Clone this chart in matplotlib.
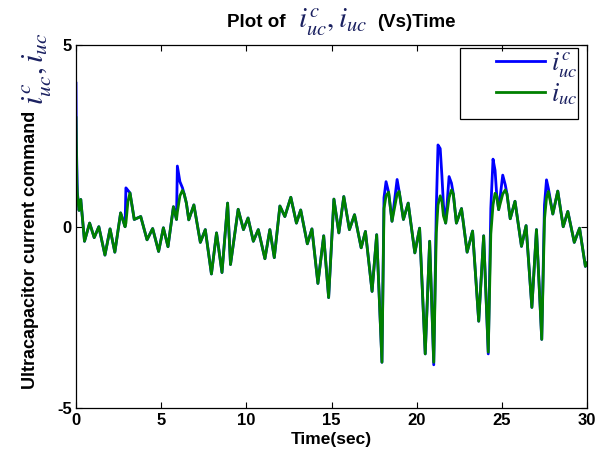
import matplotlib
matplotlib.use("Agg")
import matplotlib.pyplot as plt
from matplotlib.patches import Rectangle

plt.rcParams['font.family'] = ['Liberation Sans', 'DejaVu Sans']
plt.rcParams['mathtext.fontset'] = 'stix'
plt.rcParams['axes.unicode_minus'] = False

# Time (sec)
time = [0.00, 0.02, 0.05, 0.08, 0.18, 0.28, 0.50, 0.80, 1.07, 1.34, 1.70, 2.00, 2.28, 2.62, 2.88,
        2.93, 3.05, 3.17, 3.42, 3.80, 4.17, 4.50, 4.85, 5.13, 5.40, 5.72, 5.90, 5.95, 6.10, 6.25,
        6.35, 6.48, 6.62, 6.92, 7.30, 7.59, 7.95, 8.25, 8.57, 8.90, 9.07, 9.52, 9.83, 10.10, 10.41,
        10.70, 11.09, 11.38, 11.64, 11.97, 12.26, 12.61, 12.94, 13.19, 13.58, 13.85, 14.20, 14.54,
        14.83, 15.14, 15.43, 15.72, 16.05, 16.35, 16.74, 16.99, 17.38, 17.65, 17.96, 18.08, 18.20,
        18.35, 18.55, 18.85, 18.97, 19.22, 19.50, 19.89, 20.17, 20.50, 20.76, 21.00, 21.15, 21.25,
        21.38, 21.48, 21.57, 21.70, 21.90, 22.04, 22.15, 22.33, 22.63, 22.96, 23.28, 23.64, 23.93,
        24.20, 24.35, 24.48, 24.60, 24.70, 24.81, 25.05, 25.20, 25.30, 25.49, 25.77, 26.15, 26.42,
        26.76, 27.03, 27.34, 27.50, 27.62, 27.73, 27.99, 28.28, 28.60, 28.87, 29.25, 29.56, 29.90,
        30.00]

# Measured ultracapacitor current i_uc (green)
i_uc = [3.00, 2.30, 1.20, 0.90, 0.45, 0.75, -0.40, 0.10, -0.30, 0.00, -0.78, -0.06, -0.70, 0.38, 0.00,
        0.10, 0.70, 0.93, 0.20, 0.28, -0.36, -0.05, -0.68, -0.03, -0.55, 0.55, 0.20, 0.40, 0.85, 1.00,
        0.90, 0.65, 0.19, 0.60, -0.43, -0.08, -1.30, -0.17, -1.26, 0.65, -1.04, 0.48, -0.08, 0.24, -0.40,
        -0.08, -0.88, -0.08, -0.85, 0.57, 0.28, 0.81, 0.10, 0.46, -0.47, -0.06, -1.56, -0.25,
        -1.95, 0.76, -0.17, 0.83, -0.08, 0.33, -0.58, -0.13, -1.78, -0.22, -3.73, 0.50, 0.85,
        0.95, 0.15, 0.90, 0.97, 0.20, 0.65, -0.72, -0.04, -3.50, -0.40, -3.73, -0.17, 0.60,
        0.85, 0.70, 0.30, 0.10, 0.80, 1.01, 0.90, 0.10, 0.50, -0.70, -0.12, -2.60, -0.25,
        -3.45, -0.20, 0.60, 0.92, 0.85, 0.47, 0.90, 1.01, 0.90, 0.22, 0.70, -0.54, 0.03,
        -2.22, -0.08, -3.10, 0.20, 0.80, 0.97, 0.35, 0.98, 0.00, 0.42, -0.43, -0.04, -1.09,
        -1.00]

# Current command i_uc^c (blue)
i_uc_cmd = [3.95, 2.35, 1.67, 0.95, 0.45, 0.75, -0.40, 0.10, -0.30, 0.00, -0.78, -0.06, -0.70, 0.38, 0.00,
            1.07, 1.00, 0.93, 0.20, 0.28, -0.36, -0.05, -0.68, -0.03, -0.55, 0.55, 0.20, 1.67, 1.24, 1.07,
            0.90, 0.65, 0.19, 0.60, -0.43, -0.08, -1.30, -0.17, -1.26, 0.65, -1.04, 0.48, -0.08, 0.24, -0.40,
            -0.08, -0.88, -0.08, -0.85, 0.57, 0.28, 0.81, 0.10, 0.46, -0.47, -0.06, -1.56, -0.25,
            -1.95, 0.76, -0.17, 0.83, -0.08, 0.33, -0.58, -0.13, -1.78, -0.22, -3.73, 0.80, 1.24,
            0.95, 0.15, 1.30, 0.97, 0.20, 0.65, -0.72, -0.04, -3.50, -0.40, -3.80, 0.50, 2.25,
            2.15, 1.40, 0.60, 0.10, 1.38, 1.20, 0.90, 0.10, 0.50, -0.70, -0.12, -2.60, -0.25,
            -3.50, 0.50, 1.86, 1.55, 0.85, 0.47, 1.42, 1.15, 0.90, 0.22, 0.70, -0.54, 0.03,
            -2.22, -0.08, -3.10, 0.60, 1.29, 1.05, 0.35, 0.98, 0.00, 0.42, -0.43, -0.04, -1.09,
            -1.00]

x_ticks = [0, 5, 10, 15, 20, 25, 30]
y_ticks = [-5, 0, 5]

fig = plt.figure(figsize=(5.96, 4.59), dpi=100)
ax = fig.add_axes([0.1275, 0.1102, 0.8575, 0.7917])

ax.plot(time, i_uc_cmd, color='#0000ff', lw=2.0, label=r'$i_{uc}^{c}$')
ax.plot(time, i_uc, color='#008000', lw=2.0, label=r'$i_{uc}$')

ax.set_xlim(0, 30)
ax.set_ylim(-5, 5)
ax.set_xticks(x_ticks)
ax.set_yticks(y_ticks)
ax.tick_params(direction='in', top=True, right=True, length=4, width=0.8, labelsize=12, pad=3)
for lab in ax.get_xticklabels() + ax.get_yticklabels():
    lab.set_fontweight('bold')
for s in ax.spines.values():
    s.set_linewidth(0.9)

ax.set_xlabel('Time(sec)', fontsize=12.5, fontweight='bold', labelpad=3)
ax.set_ylabel('Ultracapacitor current command', fontsize=13, fontweight='bold')
ax.yaxis.set_label_coords(-0.072, 0.436)

fig.text(0.062, 0.85, r'$i_{uc}^{c}, i_{uc}$', rotation=90, fontsize=22, color='#1a2060',
         ha='center', va='center')

fig.text(0.479, 0.952, 'Plot of', fontsize=13.5, fontweight='bold', ha='right', va='center')
fig.text(0.500, 0.952, r'$i_{uc}^{c}, i_{uc}$', fontsize=21, color='#1a2060', ha='left', va='center')
fig.text(0.632, 0.952, '(Vs)Time', fontsize=13.5, fontweight='bold', ha='left', va='center')

leg = ax.legend(loc='upper right', bbox_to_anchor=(0.982, 0.985), fontsize=19, frameon=False,
                handlelength=1.85, handletextpad=0.25, labelspacing=0.05,
                borderpad=0.0, borderaxespad=0.0)
for t in leg.get_texts():
    t.set_color('#1a2060')
ax.add_patch(Rectangle((0.751, 0.796), 0.231, 0.196, transform=ax.transAxes, fill=False,
                       edgecolor='black', lw=0.9, zorder=5))

fig.savefig('out.png', dpi=100)
